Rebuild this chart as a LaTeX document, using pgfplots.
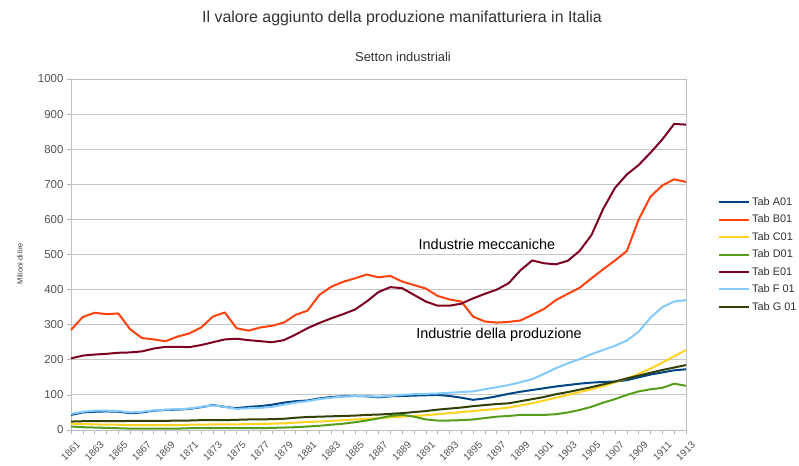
\documentclass[border=0pt]{standalone}
\usepackage{fontspec}
\setmainfont{Liberation Sans}
\usepackage{pgfplots}
\usepackage{pgfplotstable}
\pgfplotsset{compat=1.18}

\definecolor{tabA}{HTML}{004586}
\definecolor{tabB}{HTML}{FF420E}
\definecolor{tabC}{HTML}{FFD320}
\definecolor{tabD}{HTML}{579D1C}
\definecolor{tabE}{HTML}{7E0021}
\definecolor{tabF}{HTML}{83CAFF}
\definecolor{tabG}{HTML}{314004}
\definecolor{txt}{HTML}{333333}

% anno  A01 B01 C01 D01 E01 F01 G01
\pgfplotstableread{
year A B C D E F G
1861 43 285 18 10 204 46 24
1862 50 322 17 8 212 52 25
1863 52 334 16 7 215 55 25
1864 53 330 15 6 217 55 25
1865 52 332 15 5 220 54 25
1866 48 287 14 4 221 50 26
1867 50 262 14 4 224 52 26
1868 55 258 14 4 232 56 26
1869 57 253 14 4 237 58 26
1870 58 266 14 4 237 59 27
1871 60 275 15 5 236 61 27
1872 65 292 15 5 242 66 28
1873 71 323 16 5 250 70 28
1874 66 335 16 5 258 66 28
1875 62 290 16 5 260 60 29
1876 66 283 17 5 256 62 30
1877 68 292 17 5 253 63 30
1878 72 297 18 6 250 66 31
1879 78 306 19 7 256 72 32
1880 82 328 21 8 272 78 35
1881 84 340 23 10 290 82 37
1882 90 385 24 12 305 88 38
1883 94 408 26 15 318 92 39
1884 96 422 28 18 330 95 40
1885 97 432 30 22 343 97 41
1886 96 443 32 27 366 96 43
1887 93 435 34 33 393 95 44
1888 96 439 36 40 407 97 46
1889 97 423 38 43 404 100 48
1890 98 413 40 38 385 102 51
1891 99 403 42 30 366 103 54
1892 100 382 45 27 354 104 58
1893 97 372 48 27 354 106 61
1894 92 366 51 28 360 108 64
1895 86 323 54 30 375 110 68
1896 90 309 57 34 388 116 71
1897 96 306 60 38 400 122 74
1898 103 308 64 40 418 128 76
1899 109 312 70 43 455 136 82
1900 114 328 76 43 483 145 88
1901 119 345 84 43 475 160 94
1902 124 370 92 45 472 176 102
1903 128 388 100 50 482 190 108
1904 132 405 108 57 510 202 115
1905 135 432 116 66 555 216 122
1906 137 458 125 78 630 228 130
1907 138 483 136 88 690 240 138
1908 142 510 147 100 728 255 147
1909 150 600 160 110 755 280 155
1910 158 665 175 116 790 320 163
1911 164 697 192 120 828 350 171
1912 170 714 210 132 872 366 178
1913 173 707 228 126 870 370 185
}\datatable

\begin{document}
\begin{tikzpicture}
\fill[white] (0,0) rectangle (799bp,466bp);
\begin{axis}[
  at={(71bp,36bp)}, anchor=south west,
  scale only axis, width=615bp, height=351bp,
  xmin=1861, xmax=1913, ymin=0, ymax=1000,
  xtick={1861,1863,...,1913},
  minor xtick={1862,1864,...,1912},
  ytick={0,100,...,1000},
  /pgf/number format/assume math mode=true,
  /pgf/number format/1000 sep={},
  x tick label style={rotate=45, anchor=north east,
    font=\fontsize{10}{10}\selectfont, text=txt!85, xshift=2bp, yshift=-5bp},
  y tick label style={font=\fontsize{11.5}{12}\selectfont, text=txt!85},
  ymajorgrids,
  grid style={gray!45, line width=0.9bp},
  axis line style={gray!50, line width=0.8bp},
  tick align=outside,
  xtick pos=lower, ytick pos=left,
  tick style={gray!60, line width=0.6bp},
  major tick length=4bp, minor tick length=4bp,
  ylabel={Milioni di lire},
  ylabel style={at={(axis description cs:-0.083,0.474)}, anchor=center,
    font=\fontsize{7.5}{9}\selectfont, text=txt},
  legend cell align=left,
  legend style={at={(axis description cs:1.047,0.674)}, anchor=north west,
    draw=none, fill=none, font=\fontsize{11}{12}\selectfont, text=txt,
    row sep=4bp},
  legend image code/.code={\draw[#1] (0bp,0bp) -- (30bp,0bp);},
  every axis plot/.append style={line width=2bp, line join=round},
  clip=false,
]
\addplot[tabA] table[x=year, y=A] {\datatable};
\addplot[tabB] table[x=year, y=B] {\datatable};
\addplot[tabC] table[x=year, y=C] {\datatable};
\addplot[tabD] table[x=year, y=D] {\datatable};
\addplot[tabE] table[x=year, y=E] {\datatable};
\addplot[tabF] table[x=year, y=F] {\datatable};
\addplot[tabG] table[x=year, y=G] {\datatable};
\legend{Tab A01, Tab B01, Tab C01, Tab D01, Tab E01, Tab F 01, Tab G 01}
\node[anchor=west, font=\fontsize{14.5}{16}\selectfont, text=black] at (axis cs:1890.1,530) {Industrie meccaniche};
\node[anchor=west, font=\fontsize{14.5}{16}\selectfont, text=black] at (axis cs:1889.9,271) {Industrie della produzione};
\end{axis}
\node[font=\fontsize{16}{18}\selectfont, text=txt] at (402bp,448bp) {Il valore aggiunto della produzione manifatturiera in Italia};
\node[font=\fontsize{13}{15}\selectfont, text=txt] at (403bp,409bp) {Setton industriali};
\pgfresetboundingbox
\path[use as bounding box] (0,0) rectangle (799bp,466bp);
\end{tikzpicture}
\end{document}
